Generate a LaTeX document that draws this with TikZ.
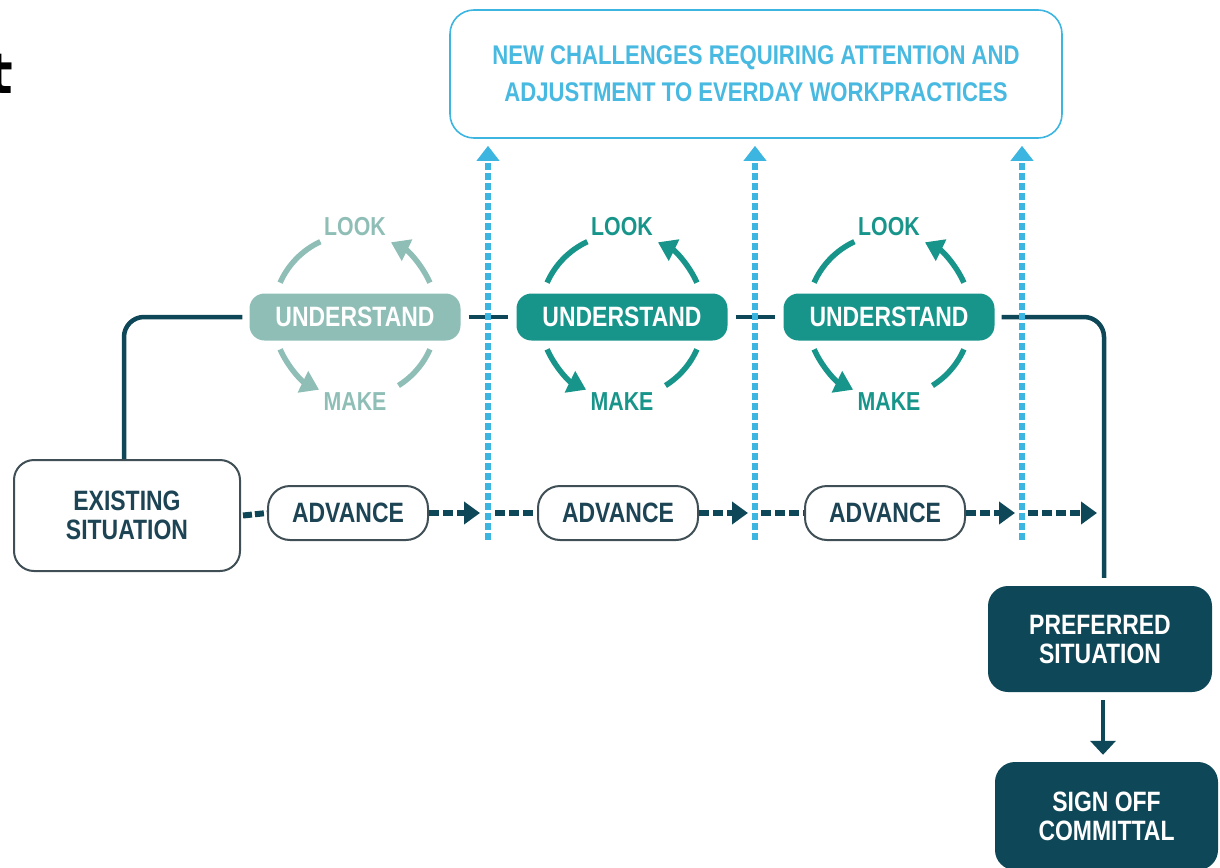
\documentclass[tikz,border=0pt]{standalone}
\usepackage{fontspec}
\newfontfamily\diagfont{Liberation Sans}[FakeStretch=0.82]
\newfontfamily\headfont{DejaVu Sans}
\usetikzlibrary{arrows.meta,calc}

\definecolor{navy}{HTML}{0E4757}
\definecolor{tealdark}{HTML}{17958A}
\definecolor{teallight}{HTML}{8FBEB7}
\definecolor{sky}{HTML}{3CB5E0}
\definecolor{skytext}{HTML}{48B9E0}
\definecolor{outline}{HTML}{3F4F55}
\definecolor{ink}{HTML}{1C4454}

\tikzset{
  boxfont/.style={font=\diagfont\bfseries\fontsize{28}{29}\selectfont},
  challengebox/.style={draw=sky, line width=1.6pt, rounded corners=24pt,
    minimum width=612pt, minimum height=128pt, text=skytext, align=center,
    font=\diagfont\bfseries\fontsize{27}{37}\selectfont},
  understandbox/.style={boxfont, rounded corners=15pt, minimum width=211pt,
    minimum height=47pt, text=white, inner sep=0pt},
  cyclelabel/.style={font=\diagfont\bfseries\fontsize{26}{26}\selectfont, inner sep=0pt},
  cyclearc/.style={line width=5.5pt},
  cyclehead/.style={-{Triangle[length=18pt,width=23pt]}},
  plainbox/.style={boxfont, draw=outline, line width=2pt, fill=white, text=ink,
    align=center, inner sep=0pt},
  darkbox/.style={boxfont, fill=navy, text=white, rounded corners=20pt,
    align=center, inner sep=0pt},
  mainline/.style={draw=navy, line width=4.5pt, rounded corners=20pt},
  dashline/.style={draw=navy, line width=6pt, dash pattern=on 10pt off 4pt},
  dashhead/.style={-{Triangle[length=16pt,width=22pt]}},
  skyline/.style={draw=sky, line width=6pt, dash pattern=on 7pt off 3pt,
    -{Triangle[length=15pt,width=22pt]}},
}

\begin{document}
\begin{tikzpicture}[x=1pt,y=-1pt]
\useasboundingbox (0,0) rectangle (1220,867);

% cut-off heading letter at the left edge
\node[anchor=base east, inner sep=0pt, font=\headfont\bfseries\fontsize{56}{56}\selectfont] (heading) at (13,93) {t};

% challenges box
\node[challengebox] (chal) at (756,74)
  {NEW CHALLENGES REQUIRING ATTENTION AND\\ADJUSTMENT TO EVERDAY WORKPRACTICES};

% three look / understand / make cycles
\foreach \i/\x/\c in {1/355/teallight,2/622/tealdark,3/889/tealdark} {
  \node[understandbox, fill=\c] (u\i) at (\x,317) {UNDERSTAND};
  \node[cyclelabel, text=\c] (look\i) at (\x,227) {LOOK};
  \node[cyclelabel, text=\c] (make\i) at (\x,402) {MAKE};
  \draw[cyclearc, draw=\c] (\x,316) ++(-156:82) arc[start angle=-156, end angle=-115, radius=82];
  \draw[cyclearc, draw=\c, cyclehead] (\x,316) ++(-24:82) arc[start angle=-24, end angle=-64, radius=82];
  \draw[cyclearc, draw=\c, cyclehead] (\x,316) ++(-204:82) arc[start angle=-204, end angle=-244, radius=82];
  \draw[cyclearc, draw=\c] (\x,316) ++(24:82) arc[start angle=24, end angle=58, radius=82];
}

% situations
\node[plainbox, rounded corners=20pt, minimum width=226pt, minimum height=111pt] (exist) at (127,515.5) {EXISTING\\SITUATION};
\node[darkbox, minimum width=224pt, minimum height=106pt] (pref) at (1100,639) {PREFERRED\\SITUATION};
\node[darkbox, minimum width=223pt, minimum height=108pt] (sign) at (1106.5,816) {SIGN OFF\\COMMITTAL};

% advance steps
\node[plainbox, rounded corners=22pt, minimum width=160pt, minimum height=54pt] (adv1) at (348,513) {ADVANCE};
\node[plainbox, rounded corners=22pt, minimum width=160pt, minimum height=54pt] (adv2) at (618,513) {ADVANCE};
\node[plainbox, rounded corners=22pt, minimum width=160pt, minimum height=54pt] (adv3) at (885,513) {ADVANCE};

% solid route through the understand phases
\draw[mainline] ([xshift=-3pt]exist.north) |- ([xshift=-7pt]u1.west);
\draw[mainline] ([xshift=8pt]u1.east) -- ([xshift=-8pt]u2.west);
\draw[mainline] ([xshift=8pt]u2.east) -- ([xshift=-8pt]u3.west);
\draw[mainline] ([xshift=7pt]u3.east) -| ([xshift=4pt,yshift=8pt]pref.north);
\draw[draw=navy, line width=4.5pt, -{Triangle[length=14pt,width=25pt]}]
  ([xshift=3pt,yshift=-8pt]pref.south) -- ([xshift=3pt,yshift=7pt]pref.south |- sign.north);

% dashed advance route
\coordinate (g1a) at (480,513);
\coordinate (g1b) at (495,513);
\coordinate (g2a) at (748,513);
\coordinate (g2b) at (761,513);
\coordinate (g3a) at (1015,513);
\coordinate (g3b) at (1028,513);
\coordinate (g3c) at (1097,513);
\draw[dashline, dash pattern=on 9pt off 3pt] ([xshift=2pt]exist.east) -- (adv1.west);
\draw[dashline, dashhead] (adv1.east) -- (g1a);
\draw[dashline] (g1b) -- (adv2.west);
\draw[dashline, dashhead] (adv2.east) -- (g2a);
\draw[dashline] (g2b) -- (adv3.west);
\draw[dashline, dashhead] (adv3.east) -- (g3a);
\draw[dashline, dashhead] (g3b) -- (g3c);

% challenge feedback arrows
\coordinate (s1) at (488,540);
\coordinate (s2) at (755,540);
\coordinate (s3) at (1022,540);
\foreach \s in {s1,s2,s3}
  \draw[skyline] (\s) -- ([yshift=-7pt]chal.south -| \s);
\end{tikzpicture}
\end{document}
